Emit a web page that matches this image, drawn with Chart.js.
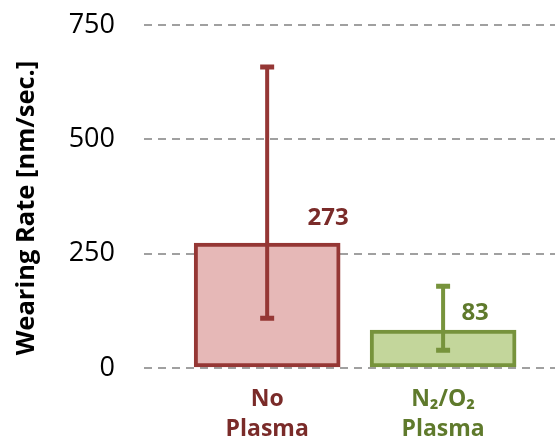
<!DOCTYPE html>
<html>
<head>
<meta charset="utf-8">
<script src="https://cdn.jsdelivr.net/npm/chart.js@4.4.0/dist/chart.umd.min.js"></script>
<style>
  html, body { margin: 0; padding: 0; background: #fff; }
  #wrap { width: 560px; height: 444px; }
</style>
</head>
<body>
<div id="wrap"><canvas id="myChart" width="560" height="444"></canvas></div>
<script>
// datos
const categorias = [['No', 'Plasma'], ['N\u2082/O\u2082', 'Plasma']];
const valores = [273, 83];
const errorBajo = [109, 39];
const errorAlto = [658, 179];
const ticksY = [0, 250, 500, 750];
const tituloY = 'Wearing Rate [nm/sec.]';

const rellenos = ['#e6b8b7', '#c3d69b'];
const bordes = ['#953735', '#77933c'];
const textos = ['#7a2b29', '#5f7a2c'];
const desplazLabel = [[61, -25], [32, -17]];

const barrasError = {
  id: 'barrasError',
  afterDatasetsDraw(chart) {
    const ctx = chart.ctx;
    const x = chart.scales.x, y = chart.scales.y;
    ctx.save();
    valores.forEach((v, i) => {
      const cx = x.getPixelForValue(i);
      const y1 = y.getPixelForValue(errorAlto[i]);
      const y2 = y.getPixelForValue(errorBajo[i]);
      ctx.strokeStyle = bordes[i];
      ctx.lineWidth = 4;
      ctx.beginPath();
      ctx.moveTo(cx, y1);
      ctx.lineTo(cx, y2);
      ctx.stroke();
      ctx.lineWidth = 5;
      ctx.beginPath();
      ctx.moveTo(cx - 7, y1); ctx.lineTo(cx + 7, y1);
      ctx.moveTo(cx - 7, y2); ctx.lineTo(cx + 7, y2);
      ctx.stroke();
      // etiqueta de valor
      ctx.fillStyle = textos[i];
      ctx.font = 'bold 24px "Open Sans"';
      ctx.textAlign = 'center';
      ctx.textBaseline = 'middle';
      ctx.fillText(String(v), cx + desplazLabel[i][0], y.getPixelForValue(v) + desplazLabel[i][1]);
    });
    // titulo del eje
    ctx.translate(27, 208);
    ctx.rotate(-Math.PI / 2);
    ctx.fillStyle = '#000';
    ctx.font = 'bold 25.5px "Open Sans"';
    ctx.textAlign = 'center';
    ctx.textBaseline = 'middle';
    ctx.fillText(tituloY, 0, 0);
    ctx.restore();
  }
};

const sinRelleno = (scale) => {
  scale.paddingTop = 0; scale.paddingBottom = 0;
  scale.paddingLeft = 0; scale.paddingRight = 0;
};

var ctx = document.getElementById('myChart').getContext('2d');
var chart = new Chart(ctx, {
  type: 'bar',
  data: {
    datasets: [{
      data: valores.map((v, i) => ({ x: i, y: v })),
      backgroundColor: rellenos,
      borderColor: bordes,
      borderWidth: 4,
      borderSkipped: false,
      barThickness: 146
    }]
  },
  options: {
    responsive: false,
    animation: false,
    layout: { padding: { top: 25, right: 5, left: 0, bottom: 0 } },
    plugins: { legend: { display: false }, tooltip: { enabled: false } },
    scales: {
      x: {
        type: 'linear',
        offset: false,
        min: -0.7,
        max: 1.636,
        grid: { display: false },
        border: { display: false },
        afterBuildTicks: (axis) => { axis.ticks = [{ value: 0 }, { value: 1 }]; },
        afterFit: (scale) => { scale.height = 76; sinRelleno(scale); },
        ticks: {
          autoSkip: false,
          maxRotation: 0,
          padding: 9,
          color: (c) => textos[c.index],
          font: { family: 'Open Sans', size: 23, weight: 'bold', lineHeight: 1.3 },
          callback: (v) => categorias[v]
        }
      },
      y: {
        min: 0,
        max: 750,
        afterBuildTicks: (axis) => { axis.ticks = ticksY.map(v => ({ value: v })); },
        afterFit: (scale) => { scale.width = 144; sinRelleno(scale); },
        grid: { color: '#a0a0a0', lineWidth: 2, drawTicks: false },
        border: { display: false, dash: [8, 6] },
        ticks: {
          padding: 29,
          color: '#000',
          font: { family: 'Open Sans', size: 27 }
        }
      }
    }
  },
  plugins: [barrasError]
});
</script>
</body>
</html>
